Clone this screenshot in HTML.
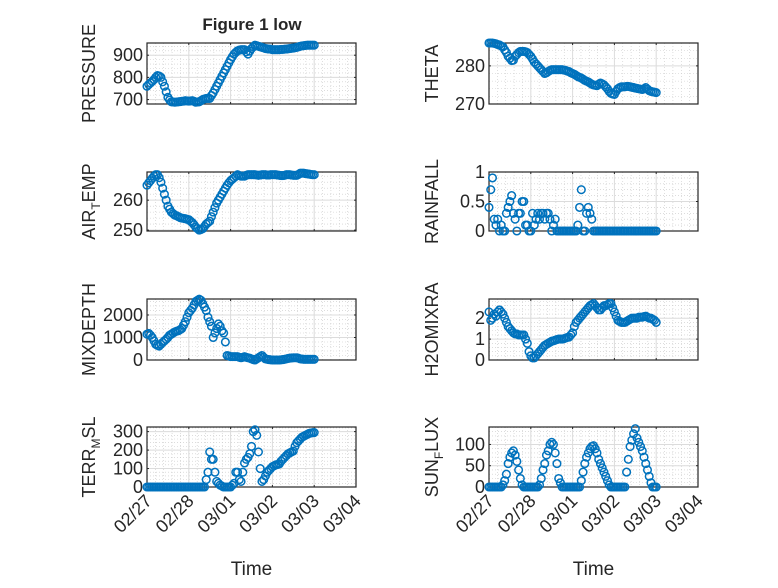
<!DOCTYPE html>
<html><head><meta charset="utf-8"><style>
body{margin:0;background:#fff}
svg text{font-family:"Liberation Sans","DejaVu Sans",sans-serif;fill:#262626}
</style></head><body>
<svg id="fig" width="778" height="583" xmlns="http://www.w3.org/2000/svg">
<rect width="778" height="583" fill="#fff"/>
<text x="252" y="30" font-size="17" font-weight="bold" text-anchor="middle" style="font-weight:bold">Figure 1 low</text>
</svg>
<script>
const xTickLabels=["02/27","02/28","03/01","03/02","03/03","03/04"];
const pressure=[760,768,775,782,790,800,808,806,800,780,760,735,710,698,690,689,688,689,690,691,692,693,695,694,693,694,695,692,688,689,690,695,700,703,705,705,705,718,730,745,760,775,790,805,820,835,850,865,880,893,905,913,920,923,925,925,925,915,905,918,930,938,945,943,940,938,935,933,930,929,928,927,925,925,925,925,925,926,926,927,928,929,930,931,932,934,935,938,940,942,943,944,945,945,945,945,945];
const theta=[286,286,286,285.9,285.8,285.6,285.5,285.2,285,284.2,283.5,282.5,282,281.4,281.5,282.5,283,283.5,283.8,283.8,283.8,283.7,283.5,283,282.5,281.8,281,280.5,280,279.5,279,278.5,278,278.2,278.5,278.8,279,279,279,279,279,279,279,278.9,278.8,278.6,278.5,278.2,278,277.8,277.5,277.2,277,276.8,276.5,276.2,276,275.8,275.5,275.2,275,274.9,274.8,275.2,275.5,275.3,275,274.5,274,273.3,272.8,272.6,272.5,273.3,274,274.3,274.5,274.5,274.5,274.6,274.6,274.5,274.4,274.3,274.2,274.1,274,273.9,273.8,274,274.3,273.9,273.5,273.3,273.2,273.1,273];
const airTemp=[265,265.8,266.5,267.3,268,268.5,268.5,267.5,266,264,262,260,258,257,256,255.5,255,254.8,254.5,254.2,254,253.9,253.8,253.6,253.5,253,252.5,251.8,251,250.5,250,250.2,250.5,251.2,252,252.5,253,254.5,256,257.5,259,260,261,262,263,264,265,265.8,266.5,267,267.5,268,268.5,268.2,268,268,268,268.3,268.5,268.5,268.5,268.5,268.5,268.4,268.3,268.4,268.5,268.5,268.5,268.4,268.4,268.5,268.5,268.5,268.5,268.4,268.3,268.2,268.2,268.3,268.5,268.5,268.5,268.4,268.3,268.3,268.3,268.6,269,269,269,268.9,268.8,268.7,268.6,268.5,268.5];
const rainfall=[0.4,0.7,0.9,0.2,0.1,0.2,0,0.1,0,0,0.3,0.4,0.5,0.6,0.3,0.2,0,0.3,0.3,0.5,0.5,0.1,0.1,0,0,0.3,0.1,0.2,0.3,0.2,0.3,0.3,0.2,0.3,0.3,0.2,0,0.1,0.2,0,0,0,0,0,0,0,0,0,0,0,0,0.1,0.4,0.7,0,0,0.3,0.4,0.3,0.2,0,0,0,0,0,0,0,0,0,0,0,0,0,0,0,0,0,0,0,0,0,0,0,0,0,0,0,0,0,0,0,0,0,0,0,0,0];
const mixDepth=[1150,1180,1100,1000,850,700,650,620,700,780,850,920,1000,1100,1150,1200,1250,1280,1300,1350,1400,1550,1700,1900,2100,2200,2300,2450,2600,2650,2700,2650,2500,2350,2200,1900,1700,1500,1000,1200,1400,1600,1500,1300,1200,800,200,180,150,150,150,150,150,120,100,120,150,120,100,80,50,20,0,50,100,150,200,120,50,30,20,10,0,0,0,0,0,10,20,30,50,70,80,90,100,100,100,80,50,40,30,30,30,30,30,30,30];
const h2oMix=[2.3,1.9,2.0,2.2,2.1,2.3,2.4,2.3,2.2,2.0,1.8,1.6,1.5,1.4,1.3,1.25,1.25,1.2,1.2,1.2,1.2,1.0,0.8,0.4,0.2,0.1,0.1,0.2,0.3,0.4,0.5,0.6,0.7,0.75,0.8,0.85,0.9,0.92,0.95,0.98,1.0,1.0,1.0,1.02,1.05,1.08,1.1,1.2,1.3,1.6,1.8,1.9,2.0,2.1,2.2,2.3,2.4,2.5,2.6,2.65,2.7,2.6,2.5,2.4,2.4,2.5,2.6,2.6,2.65,2.7,2.7,2.5,2.3,2.1,1.9,1.85,1.8,1.8,1.8,1.85,1.9,1.95,2.0,2.0,2.0,2.0,2.05,2.05,2.05,2.08,2.1,2.05,2.0,2.0,1.95,1.9,1.8];
const terrMsl=[0,0,0,0,0,0,0,0,0,0,0,0,0,0,0,0,0,0,0,0,0,0,0,0,0,0,0,0,0,0,0,0,0,0,40,80,190,150,150,80,30,20,10,5,0,0,0,0,0,10,20,80,80,40,30,80,130,150,160,180,220,300,310,280,190,100,30,40,60,80,90,100,110,115,120,122,125,140,150,160,170,180,185,190,195,220,240,250,260,270,275,280,285,290,292,294,295];
const sunFlux=[0,0,0,0,0,0,0,0,5,15,30,55,70,80,85,75,60,40,20,5,0,0,0,0,0,0,0,0,0,5,20,40,55,75,85,100,105,100,80,55,20,10,0,0,0,0,0,0,0,0,0,0,0,15,35,55,70,80,90,95,97,90,80,65,55,45,35,25,15,5,0,0,0,0,0,0,0,0,0,35,65,95,110,125,137,115,105,95,85,70,55,40,25,10,0,0,0];
const timeDays=pressure.map((_,i)=>i/24);

const NS="http://www.w3.org/2000/svg";
const svg=document.getElementById('fig');
function mk(t,a,p){const e=document.createElementNS(NS,t);for(const k in a)e.setAttribute(k,a[k]);(p||svg).appendChild(e);return e;}

const panels=[
 {key:'pressure',label:'PRESSURE',data:pressure,col:0,row:0,ylim:[680,955],ticks:[700,800,900],minor:20},
 {key:'theta',label:'THETA',data:theta,col:1,row:0,ylim:[270,286],ticks:[270,280],minor:2},
 {key:'air-temp',label:'AIR|T|EMP',data:airTemp,col:0,row:1,ylim:[249.7,269.4],ticks:[250,260],minor:2},
 {key:'rainfall',label:'RAINFALL',data:rainfall,col:1,row:1,ylim:[0,1],ticks:[0,0.5,1],minor:0.1},
 {key:'mixdepth',label:'MIXDEPTH',data:mixDepth,col:0,row:2,ylim:[0,2710],ticks:[0,1000,2000],minor:200},
 {key:'h2omixra',label:'H2OMIXRA',data:h2oMix,col:1,row:2,ylim:[0,2.92],ticks:[0,1,2],minor:0.2},
 {key:'terr-msl',label:'TERR|M|SL',data:terrMsl,col:0,row:3,ylim:[0,325],ticks:[0,100,200,300],minor:20},
 {key:'sun-flux',label:'SUN|F|LUX',data:sunFlux,col:1,row:3,ylim:[0,141],ticks:[0,50,100],minor:10}
];
const colX=[[147,356],[489,698]];
const rowY=[[43,104],[172,231],[299,360],[427,487]];
const ylabX=[95,438];

panels.forEach(p=>{
 const [x0,x1]=colX[p.col],[y0,y1]=rowY[p.row];
 const g=mk('g',{});
 
 
 const xs=d=>x0+(d/5)*(x1-x0);
 const ys=v=>y1-(v-p.ylim[0])/(p.ylim[1]-p.ylim[0])*(y1-y0);
 for(let d=0;d<5;d+=0.2){const x=xs(d);mk('line',{x1:x,x2:x,y1:y0,y2:y1,stroke:'#c8c8c8','stroke-width':0.6,'stroke-dasharray':'1 2'},g);}
 for(let v=Math.ceil(p.ylim[0]/p.minor)*p.minor;v<=p.ylim[1];v+=p.minor){const y=ys(v);mk('line',{x1:x0,x2:x1,y1:y,y2:y,stroke:'#c8c8c8','stroke-width':0.6,'stroke-dasharray':'1 2'},g);}
 xTickLabels.forEach((_,i)=>{const x=xs(i);mk('line',{x1:x,x2:x,y1:y0,y2:y1,stroke:'#dcdcdc','stroke-width':1},g);});
 p.ticks.forEach(v=>{const y=ys(v);mk('line',{x1:x0,x2:x1,y1:y,y2:y,stroke:'#dcdcdc','stroke-width':1},g);});
 mk('rect',{x:x0,y:y0,width:x1-x0,height:y1-y0,fill:'none',stroke:'#262626','stroke-width':1.2},g);
 xTickLabels.forEach((_,i)=>{const x=xs(i);mk('line',{x1:x,x2:x,y1:y1,y2:y1-2,stroke:'#262626'},g);mk('line',{x1:x,x2:x,y1:y0,y2:y0+2,stroke:'#262626'},g);});
 p.ticks.forEach(v=>{const y=ys(v);mk('line',{x1:x0,x2:x0+2,y1:y,y2:y,stroke:'#262626'},g);mk('line',{x1:x1,x2:x1-2,y1:y,y2:y,stroke:'#262626'},g);
  const t=mk('text',{x:x0-4,y:y+6,'font-size':18,'text-anchor':'end'},g);t.textContent=String(v);
  
  });
 const cy=(y0+y1)/2;
 const yl=mk('text',{x:ylabX[p.col],y:cy,'font-size':18,'text-anchor':'middle',transform:`rotate(-90 ${ylabX[p.col]} ${cy})`},g);
 
 
 const parts=p.label.split('|');
 parts.forEach((s,i)=>{const ts=mk('tspan',{},yl);ts.textContent=s;if(i===1){ts.setAttribute('font-size','12');ts.setAttribute('dy','5');}if(i===2){ts.setAttribute('dy','-5');}});
 p.data.forEach((v,i)=>{const c=mk('circle',{cx:xs(timeDays[i]),cy:ys(v),r:3.8,fill:'none',stroke:'#0072BD','stroke-width':1.5},g);
  
  });
 if(p.row===3){
  xTickLabels.forEach((s,i)=>{const x=xs(i)+6,y=y1+15;
   const t=mk('text',{x:x,y:y,'font-size':18,'text-anchor':'end',transform:`rotate(-45 ${x} ${y})`},g);t.textContent=s;
   
   });
  const xt=mk('text',{x:(x0+x1)/2,y:575,'font-size':19,'text-anchor':'middle'},g);xt.textContent='Time';
  
  
 }
});
</script>
</body></html>
